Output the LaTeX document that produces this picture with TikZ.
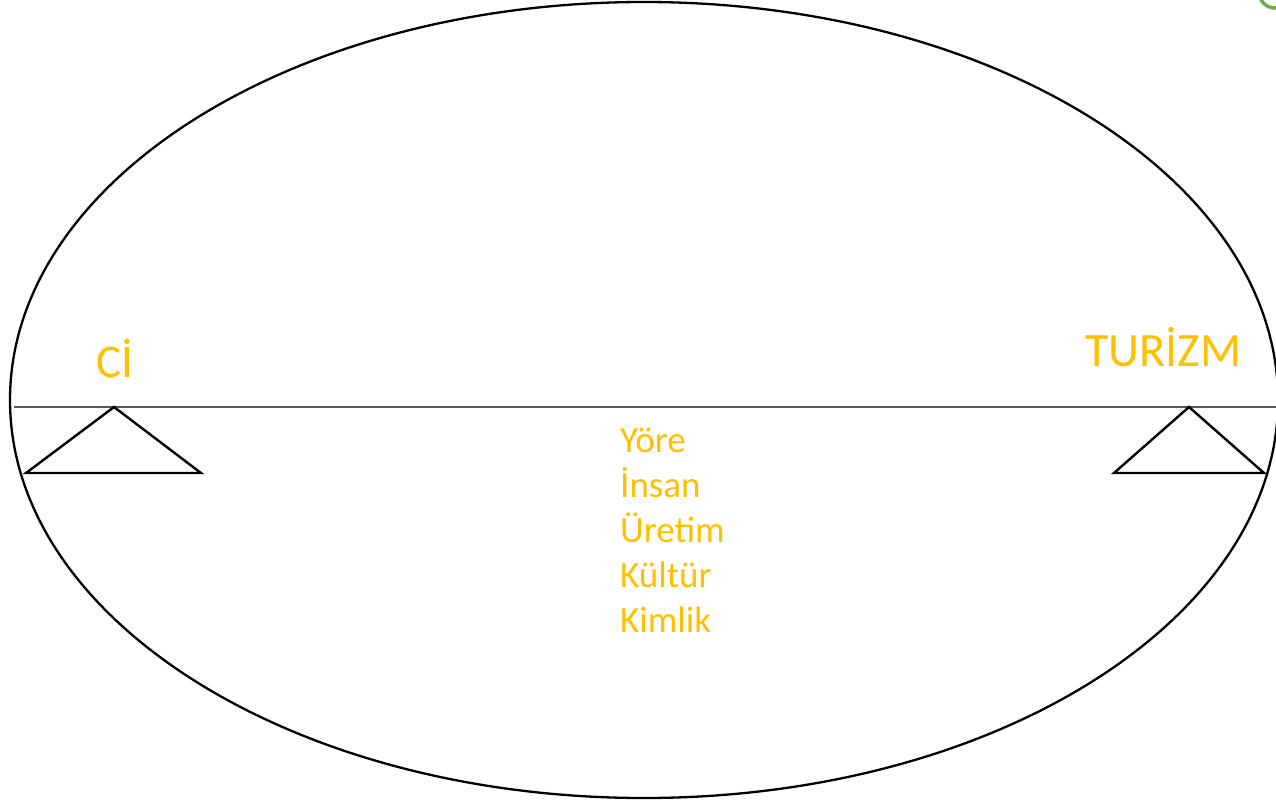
\documentclass[tikz,border=0pt]{standalone}
\usepackage{fontspec}
\setmainfont{Carlito}
\definecolor{gold}{HTML}{FFC000}
\definecolor{leaf}{HTML}{70AD47}
\definecolor{beam}{HTML}{595959}
\tikzset{
  lbl/.style={text=gold, inner sep=0pt, anchor=base west},
  tri/.style={draw=black, line width=2.4pt, line join=miter},
}
\begin{document}
\begin{tikzpicture}[x=1pt,y=-1pt]
\useasboundingbox (0,0) rectangle (1276,803);
\begin{scope}
\clip (0,0) rectangle (1276,803);
\draw[line width=2.3pt] (644,400) ellipse [x radius=634, y radius=398];
\draw[leaf, line width=3.5pt] (1275,-8) circle [radius=16];
\end{scope}
\draw[beam, line width=1.5pt] (14,407) -- (1276,407);
\draw[tri] (114,407) -- (26,473) -- (201,473) -- cycle;
\draw[tri] (1189,407) -- (1114,473) -- (1264,473) -- cycle;
\node[lbl, anchor=base, font=\fontsize{47}{47}\selectfont] (ci) at (115,377) {Cİ};
\node[lbl, font=\fontsize{48}{48}\selectfont] (turizm) at (1085,366) {TURİZM};
\node[lbl, font=\fontsize{37}{37}\selectfont] (yore) at (620,452) {Yöre};
\node[lbl, font=\fontsize{37}{37}\selectfont] (insan) at (620,497) {İnsan};
\node[lbl, font=\fontsize{37}{37}\selectfont] (uretim) at (620,542) {Üretim};
\node[lbl, font=\fontsize{37}{37}\selectfont] (kultur) at (620,587) {Kültür};
\node[lbl, font=\fontsize{37}{37}\selectfont] (kimlik) at (620,632) {Kimlik};
\end{tikzpicture}
\end{document}
